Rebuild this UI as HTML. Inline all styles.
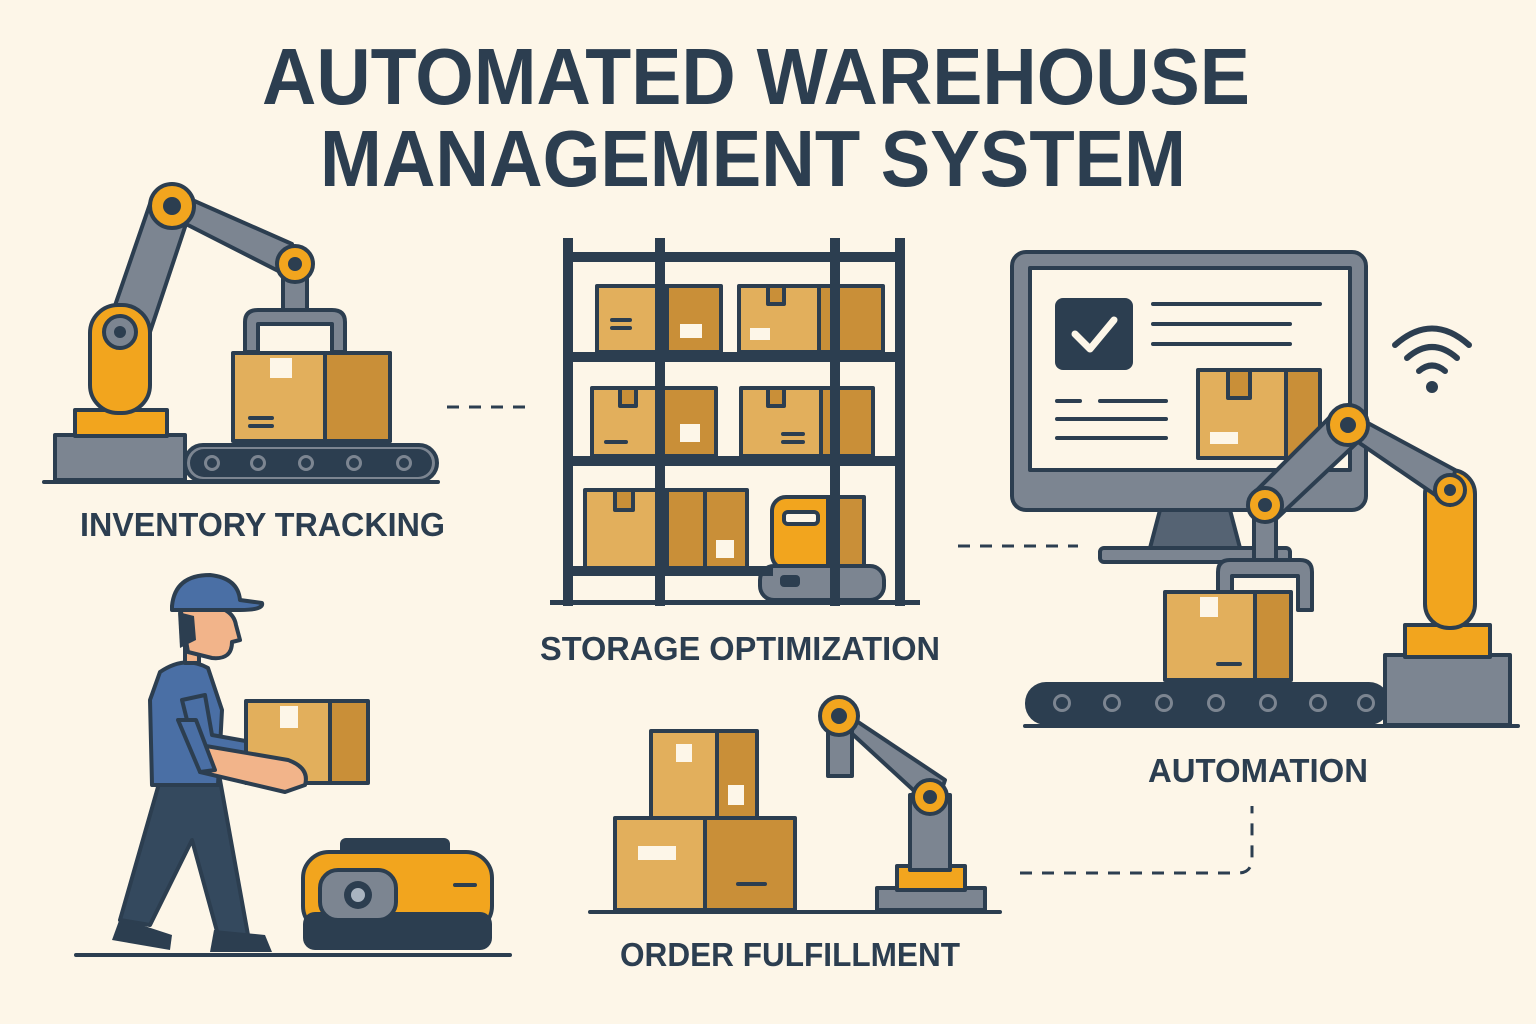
<!DOCTYPE html>
<html><head><meta charset="utf-8"><style>
html,body{margin:0;padding:0;background:#FDF6E8;}
svg{display:block}
text{font-family:"Liberation Sans",sans-serif;font-weight:bold;fill:#2C3E50}
</style></head><body>
<svg width="1536" height="1024" viewBox="0 0 1536 1024" xmlns="http://www.w3.org/2000/svg">
<defs>
<style>
.n{stroke:#2C3E50;stroke-width:4;stroke-linejoin:round;stroke-linecap:round}
.bx{fill:#E2AF5C}.bd{fill:#C98F38}.gr{fill:#7C8591}.or{fill:#F2A51E}.nv{fill:#2C3E50}.cr{fill:#FDF6E8}
</style>
</defs>
<rect width="1536" height="1024" fill="#FDF6E8"/>
<!-- title -->
<text x="262" y="104" font-size="80" textLength="988" lengthAdjust="spacingAndGlyphs">AUTOMATED WAREHOUSE</text>
<text x="320" y="186" font-size="80" textLength="866" lengthAdjust="spacingAndGlyphs">MANAGEMENT SYSTEM</text>

<!-- labels -->
<text x="80" y="536" font-size="33" textLength="365" lengthAdjust="spacingAndGlyphs">INVENTORY TRACKING</text>
<text x="540" y="660" font-size="33" textLength="400" lengthAdjust="spacingAndGlyphs">STORAGE OPTIMIZATION</text>
<text x="1148" y="782" font-size="33" textLength="220" lengthAdjust="spacingAndGlyphs">AUTOMATION</text>
<text x="620" y="966" font-size="33" textLength="340" lengthAdjust="spacingAndGlyphs">ORDER FULFILLMENT</text>

<!-- dashed connectors -->
<g stroke="#2C3E50" stroke-width="3" stroke-dasharray="12 10" fill="none">
<line x1="447" y1="407" x2="530" y2="407"/>
<line x1="958" y1="546" x2="1078" y2="546"/>
<path d="M1020 873 H1238 Q1252 873 1252 858 V806"/>
</g>

<!-- ===== Inventory tracking robot ===== -->
<line x1="44" y1="482" x2="438" y2="482" class="n"/>
<rect x="55" y="435" width="130" height="45" class="gr n"/>
<rect x="185" y="445" width="252" height="36" rx="18" class="gr n"/>
<rect x="190" y="449" width="242" height="28" rx="14" class="nv"/>
<g class="nv" fill="#2C3E50"><circle cx="212" cy="463" r="9" fill="#2C3E50"/></g>
<g fill="#7C8591"><circle cx="212" cy="463" r="8"/><circle cx="258" cy="463" r="8"/><circle cx="306" cy="463" r="8"/><circle cx="354" cy="463" r="8"/><circle cx="404" cy="463" r="8"/></g>
<g fill="#2C3E50"><circle cx="212" cy="463" r="5"/><circle cx="258" cy="463" r="5"/><circle cx="306" cy="463" r="5"/><circle cx="354" cy="463" r="5"/><circle cx="404" cy="463" r="5"/></g>
<rect x="75" y="410" width="92" height="26" class="or n"/>
<polygon points="110,320 150,332 190,212 152,198" class="gr n"/>
<rect x="90" y="305" width="60" height="108" rx="28" class="or n"/>
<circle cx="120" cy="332" r="16" class="gr n"/><circle cx="120" cy="332" r="6" class="nv"/>
<polygon points="165,188 182,222 300,282 292,244" class="gr n"/>
<circle cx="172" cy="206" r="22" class="or n"/><circle cx="172" cy="206" r="9" class="nv"/>
<rect x="283" y="270" width="24" height="40" class="gr n"/>
<circle cx="295" cy="264" r="18" class="or n"/><circle cx="295" cy="264" r="7" class="nv"/>
<path d="M245 352 V322 Q245 310 258 310 H332 Q345 310 345 322 V352 H332 V324 H258 V352 Z" class="gr n"/>
<rect x="233" y="353" width="157" height="88" class="bx n"/>
<rect x="325" y="353" width="65" height="88" class="bd n"/>
<rect x="270" y="358" width="22" height="20" fill="#FDF6E8"/>
<line x1="250" y1="418" x2="272" y2="418" class="n" stroke-width="3"/><line x1="250" y1="426" x2="272" y2="426" class="n" stroke-width="3"/>

<!-- ===== Shelf ===== -->
<g>
<!-- boxes row 1 -->
<rect x="597" y="286" width="70" height="66" class="bx n"/><rect x="667" y="286" width="54" height="66" class="bd n"/>
<rect x="739" y="286" width="80" height="66" class="bx n"/><rect x="819" y="286" width="64" height="66" class="bd n"/>
<rect x="680" y="324" width="22" height="14" fill="#FDF6E8"/><rect x="750" y="328" width="20" height="12" fill="#FDF6E8"/>
<rect x="768" y="286" width="16" height="18" class="bd n"/>
<line x1="612" y1="320" x2="630" y2="320" class="n" stroke-width="3"/><line x1="612" y1="328" x2="630" y2="328" class="n" stroke-width="3"/>
<!-- row 2 -->
<rect x="592" y="388" width="70" height="68" class="bx n"/><rect x="662" y="388" width="54" height="68" class="bd n"/>
<rect x="741" y="388" width="80" height="68" class="bx n"/><rect x="821" y="388" width="52" height="68" class="bd n"/>
<rect x="620" y="388" width="16" height="18" class="bd n"/><rect x="768" y="388" width="16" height="18" class="bd n"/>
<rect x="680" y="424" width="20" height="18" fill="#FDF6E8"/>
<line x1="606" y1="442" x2="626" y2="442" class="n" stroke-width="3"/>
<line x1="783" y1="434" x2="803" y2="434" class="n" stroke-width="3"/><line x1="783" y1="442" x2="803" y2="442" class="n" stroke-width="3"/>
<!-- row 3 -->
<rect x="585" y="490" width="82" height="78" class="bx n"/><rect x="667" y="490" width="38" height="78" class="bd n"/>
<rect x="705" y="490" width="42" height="78" class="bd n"/>
<rect x="615" y="490" width="18" height="20" class="bd n"/>
<rect x="716" y="540" width="18" height="18" fill="#FDF6E8"/>
<!-- small robot -->
<rect x="772" y="497" width="92" height="72" rx="14" class="or n"/>
<rect x="828" y="497" width="36" height="72" class="bd n"/>
<rect x="784" y="512" width="34" height="12" rx="4" class="cr n"/>
<rect x="760" y="566" width="124" height="34" rx="14" class="gr n"/>
<rect x="780" y="575" width="20" height="12" rx="4" class="nv"/>
<!-- frame -->
<g fill="#2C3E50">
<rect x="563" y="238" width="10" height="368"/><rect x="655" y="238" width="10" height="368"/>
<rect x="830" y="238" width="10" height="368"/><rect x="895" y="238" width="10" height="368"/>
<rect x="563" y="252" width="342" height="10"/><rect x="563" y="352" width="342" height="10"/>
<rect x="563" y="456" width="342" height="10"/><rect x="563" y="566" width="210" height="10"/>
<rect x="550" y="600" width="370" height="5"/>
</g>
</g>

<!-- ===== Monitor ===== -->
<rect x="1012" y="252" width="354" height="258" rx="14" class="gr n"/>
<rect x="1030" y="268" width="320" height="202" class="cr n"/>
<polygon points="1160,510 1230,510 1240,548 1150,548" fill="#556373" class="n"/>
<rect x="1100" y="548" width="190" height="14" rx="4" class="gr n"/>
<rect x="1055" y="298" width="78" height="72" rx="8" class="nv"/>
<polyline points="1075,334 1090,349 1114,320" fill="none" stroke="#FDF6E8" stroke-width="7" stroke-linecap="round" stroke-linejoin="round"/>
<g stroke="#2C3E50" stroke-width="4" stroke-linecap="round">
<line x1="1153" y1="304" x2="1320" y2="304"/><line x1="1153" y1="324" x2="1290" y2="324"/><line x1="1153" y1="344" x2="1290" y2="344"/>
<line x1="1057" y1="401" x2="1080" y2="401"/><line x1="1100" y1="401" x2="1166" y2="401"/>
<line x1="1057" y1="419" x2="1166" y2="419"/><line x1="1057" y1="438" x2="1166" y2="438"/>
</g>
<rect x="1198" y="370" width="88" height="88" class="bx n"/><rect x="1286" y="370" width="34" height="88" class="bd n"/>
<rect x="1228" y="370" width="22" height="28" class="bd n"/>
<rect x="1210" y="432" width="28" height="12" fill="#FDF6E8"/>
<!-- wifi -->
<g fill="none" stroke="#2C3E50" stroke-width="6" stroke-linecap="round">
<path d="M1395 345 Q1432 312 1469 345"/><path d="M1407 358 Q1432 336 1457 358"/><path d="M1419 371 Q1432 360 1445 371"/>
</g>
<circle cx="1432" cy="387" r="6" fill="#2C3E50"/>

<!-- ===== Automation robot ===== -->
<line x1="1025" y1="726" x2="1518" y2="726" class="n"/>
<rect x="1025" y="682" width="365" height="43" rx="21" class="nv"/>
<g fill="#7C8591"><circle cx="1062" cy="703" r="9"/><circle cx="1112" cy="703" r="9"/><circle cx="1164" cy="703" r="9"/><circle cx="1216" cy="703" r="9"/><circle cx="1268" cy="703" r="9"/><circle cx="1318" cy="703" r="9"/><circle cx="1366" cy="703" r="9"/></g>
<g fill="#2C3E50"><circle cx="1062" cy="703" r="6"/><circle cx="1112" cy="703" r="6"/><circle cx="1164" cy="703" r="6"/><circle cx="1216" cy="703" r="6"/><circle cx="1268" cy="703" r="6"/><circle cx="1318" cy="703" r="6"/><circle cx="1366" cy="703" r="6"/></g>
<rect x="1385" y="655" width="125" height="70" class="gr n"/>
<rect x="1405" y="625" width="85" height="32" class="or n"/>
<rect x="1425" y="470" width="50" height="158" rx="24" class="or n"/>
<polygon points="1340,408 1358,442 1450,505 1455,470" class="gr n"/>
<circle cx="1450" cy="490" r="15" class="or n"/><circle cx="1450" cy="490" r="6" class="nv"/>
<polygon points="1335,412 1362,438 1275,520 1255,492" class="gr n"/>
<circle cx="1348" cy="425" r="20" class="or n"/><circle cx="1348" cy="425" r="8" class="nv"/>
<rect x="1254" y="510" width="22" height="50" class="gr n"/>
<circle cx="1265" cy="505" r="17" class="or n"/><circle cx="1265" cy="505" r="7" class="nv"/>
<path d="M1218 610 V572 Q1218 560 1230 560 H1300 Q1312 560 1312 572 V610 H1298 V576 H1232 V610 Z" class="gr n"/>
<rect x="1165" y="592" width="90" height="88" class="bx n"/><rect x="1255" y="592" width="36" height="88" class="bd n"/>
<rect x="1200" y="597" width="18" height="20" fill="#FDF6E8"/>
<line x1="1218" y1="664" x2="1240" y2="664" class="n" stroke-width="3"/>

<!-- ===== Worker ===== -->
<line x1="76" y1="955" x2="510" y2="955" class="n"/>
<!-- legs -->
<polygon points="160,780 220,780 248,935 218,935 192,840 150,925 120,920" fill="#34495E" class="n"/>
<path d="M120 918 L112 940 L170 950 L172 935 Z" class="nv"/>
<path d="M214 930 L210 952 L272 952 L265 935 Z" class="nv"/>
<!-- torso -->
<path d="M160 672 Q185 655 208 668 L222 710 L218 785 L152 785 L150 700 Z" fill="#4A6FA5" class="n"/>
<!-- head -->
<rect x="185" y="645" width="14" height="18" fill="#F2B48A" class="n"/>
<path d="M180 606 Q232 600 236 625 L240 640 L232 642 Q232 660 212 658 L188 652 Z" fill="#F2B48A" class="n"/>
<path d="M178 612 L180 648 L196 640 L194 616 Z" fill="#2C3E50"/>
<path d="M172 606 Q175 575 210 575 Q238 578 240 600 L262 603 Q264 610 240 610 L172 610 Z" fill="#4A6FA5" class="n"/>
<!-- arm + box -->
<path d="M182 700 L195 752 L282 765 L285 748 L212 735 L205 695 Z" fill="#4A6FA5" class="n"/>
<rect x="246" y="701" width="84" height="82" class="bx n"/><rect x="330" y="701" width="38" height="82" class="bd n"/>
<rect x="280" y="706" width="18" height="22" fill="#FDF6E8"/>
<path d="M200 745 L288 760 Q310 768 305 785 L285 792 L200 772 Z" fill="#F2B48A" class="n"/>
<path d="M178 720 L200 772 L215 770 L196 720 Z" fill="#4A6FA5" class="n"/>
<!-- cart robot -->
<rect x="340" y="838" width="110" height="20" rx="6" class="nv"/>
<rect x="303" y="852" width="189" height="80" rx="26" class="or n"/>
<rect x="303" y="912" width="189" height="38" rx="12" class="nv"/>
<rect x="320" y="870" width="76" height="50" rx="18" class="gr n"/>
<circle cx="358" cy="895" r="14" class="nv"/><circle cx="358" cy="895" r="7" fill="#A9B4C0"/>
<line x1="455" y1="885" x2="475" y2="885" class="n" stroke-width="5"/>

<!-- ===== Order fulfillment ===== -->
<line x1="590" y1="912" x2="1000" y2="912" class="n"/>
<rect x="651" y="731" width="66" height="87" class="bx n"/><rect x="717" y="731" width="40" height="87" class="bd n"/>
<rect x="676" y="744" width="16" height="18" fill="#FDF6E8"/><rect x="728" y="785" width="16" height="20" fill="#FDF6E8"/>
<rect x="615" y="818" width="90" height="92" class="bx n"/><rect x="705" y="818" width="90" height="92" class="bd n"/>
<rect x="638" y="846" width="38" height="14" fill="#FDF6E8"/>
<line x1="738" y1="884" x2="765" y2="884" class="n"/>
<rect x="877" y="888" width="108" height="22" class="gr n"/>
<rect x="897" y="866" width="68" height="24" class="or n"/>
<rect x="910" y="795" width="40" height="75" class="gr n"/>
<polygon points="828,702 848,730 935,810 945,780" class="gr n"/>
<rect x="828" y="728" width="24" height="48" class="gr n"/>
<circle cx="930" cy="797" r="17" class="or n"/><circle cx="930" cy="797" r="7" class="nv"/>
<circle cx="839" cy="716" r="19" class="or n"/><circle cx="839" cy="716" r="8" class="nv"/>
</svg>
</body></html>
